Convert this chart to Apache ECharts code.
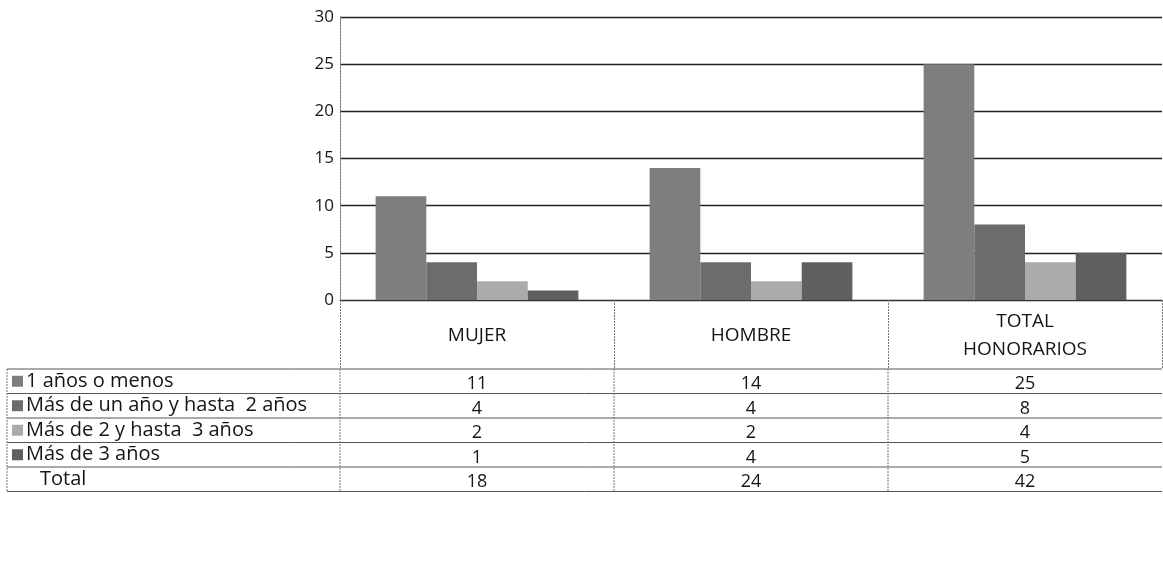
<!DOCTYPE html>
<html>
<head>
<meta charset="utf-8">
<script src="https://cdn.jsdelivr.net/npm/echarts@6/dist/echarts.min.js"></script>
<style>
  html, body { margin: 0; padding: 0; background: #fff; }
  #chart { width: 1163px; height: 563px; }
</style>
</head>
<body>
<div id="chart"></div>
<script>
// categories and series
const categories = ['MUJER', 'HOMBRE', 'TOTAL\nHONORARIOS']
const seriesNames = ['1 años o menos', 'Más de un año y hasta  2 años', 'Más de 2 y hasta  3 años', 'Más de 3 años']
const menos1 = [11, 14, 25]
const hasta2 = [4, 4, 8]
const hasta3 = [2, 2, 4]
const mas3 = [1, 4, 5]
const yTicks = [0, 5, 10, 15, 20, 25, 30]

const seriesData = [menos1, hasta2, hasta3, mas3]
const colors = ['#7e7e7e', '#6c6c6c', '#ababab', '#5f5f5f']
const totals = categories.map((c, i) => seriesData.reduce((s, arr) => s + arr[i], 0))

const font = '"Open Sans", "Noto Sans", sans-serif'
const textColor = '#151515'
const lineColor = '#555'
// layout of the grid / table
const gLeft = 340, gTop = 17, gWidth = 822, gBottomY = 300
const tableLeft = 7, rowTop = 369, rowH = 24.5

const chart = echarts.init(document.getElementById('chart'))

const option = {
  animation: false,
  backgroundColor: '#fff',
  grid: { left: gLeft, top: gTop, width: gWidth, height: gBottomY - gTop },
  xAxis: {
    type: 'category',
    data: categories,
    axisLine: { lineStyle: { color: '#333', width: 1 } },
    axisTick: { show: true, length: rowTop - gBottomY, lineStyle: { color: '#777', type: [2, 1] } },
    axisLabel: {
      interval: 0, margin: 36, verticalAlign: 'middle',
      color: textColor, fontSize: 19, lineHeight: 28, fontFamily: font
    }
  },
  yAxis: {
    type: 'value',
    min: yTicks[0], max: yTicks[yTicks.length - 1], interval: 5,
    axisLine: { show: true, lineStyle: { color: '#777', type: [2, 1] } },
    axisTick: { show: false },
    axisLabel: { color: textColor, fontSize: 17, margin: 6, fontFamily: font },
    splitLine: { lineStyle: { color: '#222', width: 1.4 } }
  },
  series: seriesData.map((d, i) => ({
    name: seriesNames[i],
    type: 'bar',
    data: d,
    barGap: '0%',
    barCategoryGap: '26%',
    itemStyle: { color: colors[i] }
  })),
  graphic: []
}

// data table under the chart
const g = []
const right = gLeft + gWidth
const colW = gWidth / categories.length
const rows = seriesNames.length + 1
for (let r = 0; r <= rows; r++) {
  g.push({ type: 'line', shape: { x1: tableLeft, y1: rowTop + r * rowH, x2: right, y2: rowTop + r * rowH },
    style: { stroke: lineColor, lineWidth: 1 } })
}
const vx = [tableLeft, gLeft, gLeft + colW, gLeft + 2 * colW]
vx.forEach(x => g.push({ type: 'line', shape: { x1: x, y1: rowTop, x2: x, y2: rowTop + rows * rowH },
  style: { stroke: '#777', lineWidth: 1, lineDash: [2, 1] } }))

for (let r = 0; r < rows; r++) {
  const cy = rowTop + r * rowH + rowH / 2
  const isTotal = r === seriesNames.length
  if (!isTotal) {
    g.push({ type: 'rect', shape: { x: 12, y: cy - 5.5, width: 11, height: 11 }, style: { fill: colors[r] } })
  }
  g.push({ type: 'text', x: isTotal ? 40 : 26, y: cy,
    style: { text: isTotal ? 'Total' : seriesNames[r], fill: textColor, font: '20px ' + font, verticalAlign: 'middle' } })
  const vals = isTotal ? totals : seriesData[r]
  vals.forEach((v, c) => {
    g.push({ type: 'text', x: gLeft + colW * c + colW / 2, y: cy + 3,
      style: { text: String(v), fill: textColor, font: '18px ' + font, align: 'center', verticalAlign: 'middle' } })
  })
}
option.graphic = g

chart.setOption(option)
window.addEventListener('resize', () => { chart.resize() })
</script>
</body>
</html>
